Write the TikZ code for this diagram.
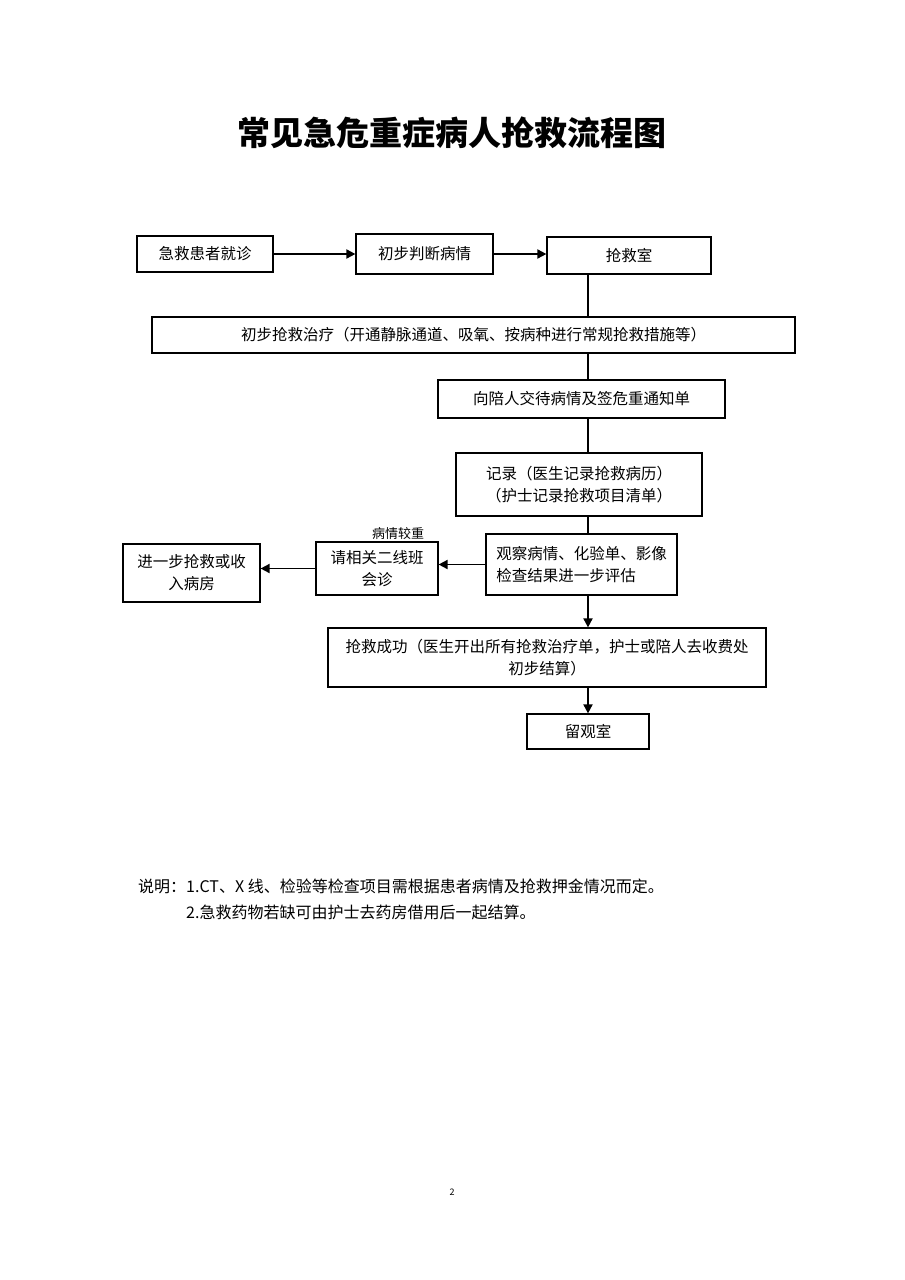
\documentclass[tikz,border=0pt]{standalone}
\usepackage{fontspec}
\setmainfont{Noto Sans CJK SC}
\newfontfamily\cjk{Noto Sans CJK SC}
\usetikzlibrary{arrows.meta}
\tikzset{
  box/.style={draw=black, line width=1.2pt, inner sep=2pt, align=center,
    font=\cjk\fontsize{15.5}{22}\selectfont},
  conn/.style={line width=1.8pt, draw=black},
  arr/.style={conn, -{Triangle[length=9pt,width=9pt]}},
  lbl/.style={inner sep=0pt, font=\cjk\fontsize{13}{15}\selectfont}
}
\begin{document}
\begin{tikzpicture}[x=1pt,y=-1pt]
\useasboundingbox[fill=white] (0,0) rectangle (905,1280);
\node[inner sep=0pt, font=\cjk\bfseries\fontsize{33}{38}\selectfont] (title) at (452,133) {常见急危重症病人抢救流程图};

\node[box, minimum width=136pt, minimum height=36pt] (b1) at (205,254) {急救患者就诊};
\node[box, minimum width=137pt, minimum height=40pt] (b2) at (424.5,254) {初步判断病情};
\node[box, minimum width=164pt, minimum height=37pt] (b3) at (629,255.5) {抢救室};
\node[box, minimum width=643pt, minimum height=36pt] (b4) at (473.5,335) {初步抢救治疗（开通静脉通道、吸氧、按病种进行常规抢救措施等）};
\node[box, minimum width=287pt, minimum height=38pt] (b5) at (581.5,399) {向陪人交待病情及签危重通知单};
\node[box, minimum width=246pt, minimum height=63pt] (b6) at (579,484.5) {记录（医生记录抢救病历）\\（护士记录抢救项目清单）};
\node[box, minimum width=191pt, minimum height=61pt, align=left] (b7) at (581.5,564.5) {观察病情、化验单、影像\\检查结果进一步评估};
\node[box, minimum width=122pt, minimum height=53pt] (b8) at (377,568.5) {请相关二线班\\会诊};
\node[box, minimum width=137pt, minimum height=58pt] (b9) at (191.5,573) {进一步抢救或收\\入病房};
\node[box, minimum width=438pt, minimum height=59pt] (b10) at (547,657.5) {抢救成功（医生开出所有抢救治疗单，护士或陪人去收费处\\初步结算）};
\node[box, minimum width=122pt, minimum height=35pt] (b11) at (588,731.5) {留观室};

\node[lbl] (l1) at (398,534) {病情较重};

\coordinate (sp) at (588,0);

\draw[arr] (b1.east) -- (b1.east -| b2.west);
\draw[arr] (b2.east) -- (b2.east -| b3.west);
\draw[conn] (b3.south -| sp) -- (b4.north -| sp);
\draw[conn] (b4.south -| sp) -- (b5.north -| sp);
\draw[conn] (b5.south -| sp) -- (b6.north -| sp);
\draw[conn] (b6.south -| sp) -- (b7.north -| sp);
\draw[arr] (b7.west) -- (b7.west -| b8.east);
\draw[arr] (b8.west) -- (b8.west -| b9.east);
\draw[arr] (b7.south -| sp) -- (b10.north -| sp);
\draw[arr] (b10.south -| sp) -- (b11.north);

\node[anchor=north west, inner sep=0pt, align=left, font=\cjk\fontsize{16}{26}\selectfont] (notes) at (138,879)
 {说明：1.CT、X 线、检验等检查项目需根据患者病情及抢救押金情况而定。\\\phantom{说明：}2.急救药物若缺可由护士去药房借用后一起结算。};

\node[inner sep=0pt, font=\cjk\fontsize{9}{10}\selectfont] (pg) at (452,1192) {2};
\end{tikzpicture}
\end{document}
